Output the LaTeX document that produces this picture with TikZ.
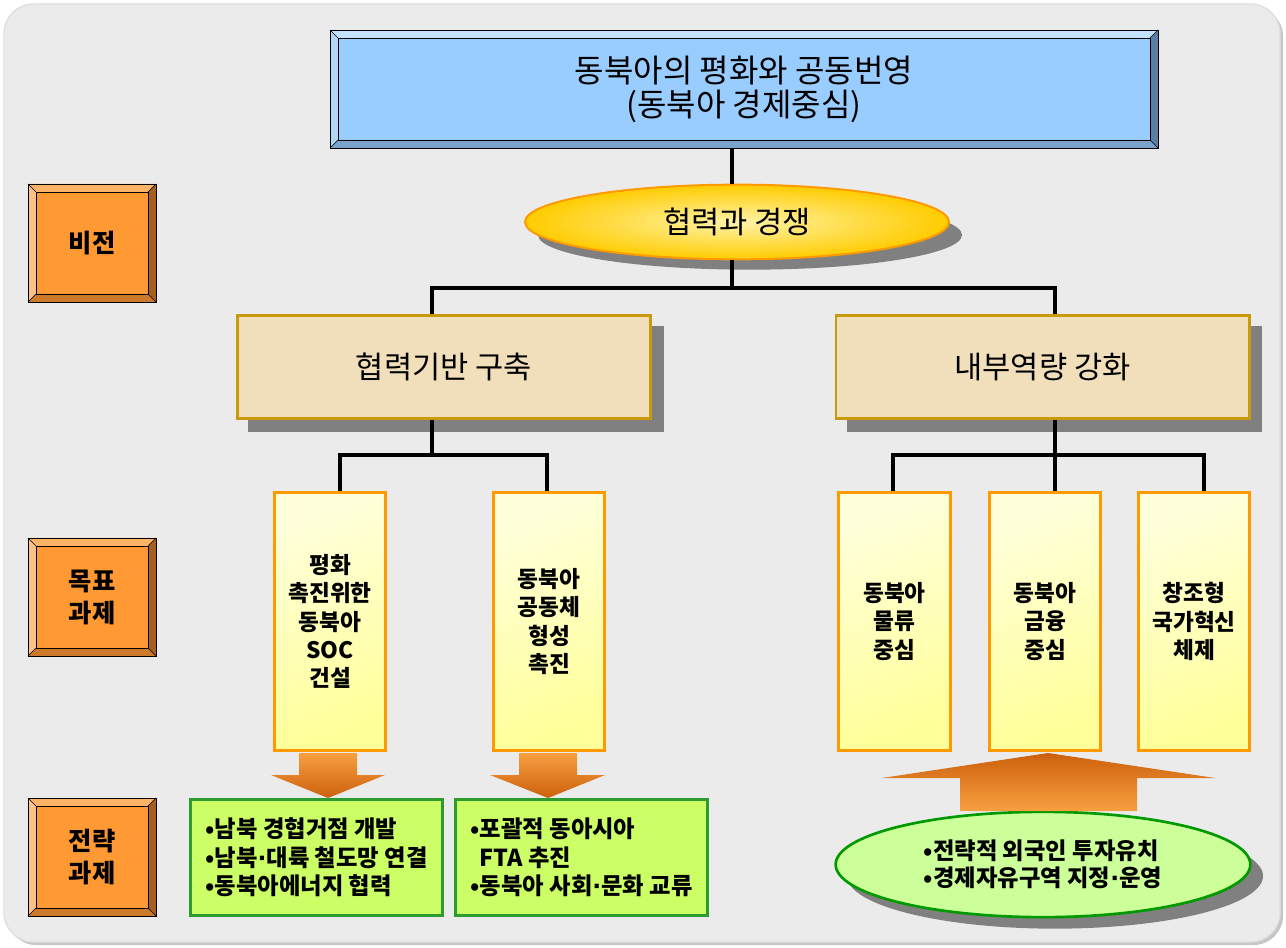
\documentclass[tikz,border=0pt]{standalone}
\usepackage{fontspec}
\setmainfont{Noto Sans CJK KR}
\newfontfamily\dotfont{DejaVu Sans}
\newcommand\mdot{{\dotfont\bfseries ·}}
\usetikzlibrary{shapes.geometric}
\definecolor{bggray}{HTML}{EBEBEB}
\definecolor{shadowgray}{HTML}{808080}
\definecolor{blueface}{HTML}{99CCFF}
\definecolor{bluetop}{HTML}{C4E2FF}
\definecolor{blueleft}{HTML}{B2D6F7}
\definecolor{blueright}{HTML}{5A7EA3}
\definecolor{bluebottom}{HTML}{7AA2CC}
\definecolor{orface}{HTML}{FF9933}
\definecolor{ortop}{HTML}{FFB366}
\definecolor{orleft}{HTML}{FFC285}
\definecolor{orright}{HTML}{A65F1C}
\definecolor{orbottom}{HTML}{CC7A29}
\definecolor{tanfill}{HTML}{F0DFBA}
\definecolor{tanborder}{HTML}{C99A0C}
\definecolor{boxorange}{HTML}{FF9900}
\definecolor{talltop}{HTML}{FFFFDC}
\definecolor{tallbot}{HTML}{FFFF99}
\definecolor{greenfill}{HTML}{CCFF66}
\definecolor{greenborder}{HTML}{2E9B2E}
\definecolor{ellgreen}{HTML}{CCFF99}
\definecolor{ellgreenborder}{HTML}{009900}
\definecolor{ylin}{HTML}{FFF3A8}
\definecolor{ylout}{HTML}{FFCC00}
\definecolor{arrlight}{HTML}{F8A040}
\definecolor{arrdark}{HTML}{CC600C}
\newcommand\bevelfaces[6]{%
 \fill[#3] (#1.north west) -- (#1.north east) -- ([shift={(-#2,-#2)}]#1.north east) -- ([shift={(#2,-#2)}]#1.north west) -- cycle;
 \fill[#4] (#1.north west) -- ([shift={(#2,-#2)}]#1.north west) -- ([shift={(#2,#2)}]#1.south west) -- (#1.south west) -- cycle;
 \fill[#5] (#1.north east) -- (#1.south east) -- ([shift={(-#2,#2)}]#1.south east) -- ([shift={(-#2,-#2)}]#1.north east) -- cycle;
 \fill[#6] (#1.south west) -- ([shift={(#2,#2)}]#1.south west) -- ([shift={(-#2,#2)}]#1.south east) -- (#1.south east) -- cycle;
 \draw[line width=0.7pt] (#1.north west) rectangle (#1.south east);
 \draw[line width=0.6pt] ([shift={(#2,-#2)}]#1.north west) rectangle ([shift={(-#2,#2)}]#1.south east);
 \draw[line width=0.4pt] (#1.north west) -- ([shift={(#2,-#2)}]#1.north west)
   (#1.north east) -- ([shift={(-#2,-#2)}]#1.north east)
   (#1.south west) -- ([shift={(#2,#2)}]#1.south west)
   (#1.south east) -- ([shift={(-#2,#2)}]#1.south east);
}
\begin{document}
\begin{tikzpicture}[x=0.75pt,y=-0.75pt,
  conn/.style={line width=3pt, black},
  bevelnode/.style={inner sep=0pt, outer sep=0pt, align=center},
  labelbox/.style={bevelnode, fill=orface, minimum width=96pt, minimum height=88.5pt,
     font=\fontsize{19}{24}\selectfont\bfseries},
  tanbox/.style={draw=tanborder, line width=2pt, fill=tanfill, minimum width=310pt, minimum height=77.5pt,
     inner sep=0pt, font=\fontsize{23}{26}\selectfont},
  tallbox/.style={draw=boxorange, line width=2.25pt, top color=talltop, bottom color=tallbot, shading angle=20,
     minimum width=83.5pt, minimum height=193.5pt, inner sep=0pt, align=center,
     font=\fontsize{17}{21.2}\selectfont\bfseries},
  greenbox/.style={draw=greenborder, line width=2.25pt, fill=greenfill, minimum width=189pt, minimum height=87pt,
     inner sep=0pt, align=left, font=\fontsize{17.5}{21.4}\selectfont\bfseries},
  blockarrow/.style={top color=arrlight, bottom color=arrdark}
]
\useasboundingbox (0,0) rectangle (1286,948);
\fill[white] (0,0) rectangle (1286,948);
% background panel
\fill[gray!45, rounded corners=22pt] (7,7) rectangle (1283,945);
\draw[fill=bggray, draw=gray!25, line width=1pt, rounded corners=22pt] (4,4) rectangle (1280,942);

% shadows
\fill[shadowgray] (750,235) ellipse [x radius=159pt, y radius=26pt];
\fill[shadowgray] (248,326) rectangle (664,432);
\fill[shadowgray] (847,326) rectangle (1262,432);
\fill[shadowgray] (1055,876) ellipse [x radius=156pt, y radius=39.5pt];

% top box
\node[bevelnode, fill=blueface, minimum width=621pt, minimum height=88.5pt,
      font=\fontsize{24}{25.5}\selectfont] (top) at (744,89) {동북아의 평화와 공동번영\\(동북아 경제중심)};
\bevelfaces{top}{6pt}{bluetop}{blueleft}{blueright}{bluebottom}

% side labels
\node[labelbox] (lab1) at (92,243) {비전};
\bevelfaces{lab1}{6pt}{ortop}{orleft}{orright}{orbottom}
\node[labelbox] (lab2) at (92,597) {목표\\과제};
\bevelfaces{lab2}{6pt}{ortop}{orleft}{orright}{orbottom}
\node[labelbox] (lab3) at (92,857) {전략\\과제};
\bevelfaces{lab3}{6pt}{ortop}{orleft}{orright}{orbottom}

% vision ellipse
\node[ellipse, draw=boxorange, line width=1.5pt, inner color=ylin, outer color=ylout,
      minimum width=318pt, minimum height=56pt, inner sep=0pt,
      font=\fontsize{23}{26}\selectfont] (ell) at (737,222) {협력과 경쟁};

% second level
\node[tanbox] (lb) at (444,367) {협력기반 구축};
\node[tanbox] (rb) at (1042.5,367) {내부역량 강화};

% tall boxes
\node[tallbox] (t1) at (330,621.5) {평화\\촉진위한\\동북아\\SOC\\건설};
\node[tallbox] (t2) at (549,621.5) {동북아\\공동체\\형성\\촉진};
\node[tallbox] (r1) at (894.5,621.5) {동북아\\물류\\중심};
\node[tallbox] (r2) at (1045,621.5) {동북아\\금융\\중심};
\node[tallbox] (r3) at (1194,621.5) {창조형\\국가혁신\\체제};

% green boxes
\node[greenbox] (g1) at (316.5,857.5) {•남북 경협거점 개발\\•남북\mdot 대륙 철도망 연결\\•동북아에너지 협력};
\node[greenbox] (g2) at (581.5,857.5) {•포괄적 동아시아\\\phantom{•}FTA 추진\\•동북아 사회\mdot 문화 교류};

% green ellipse
\node[ellipse, draw=ellgreenborder, line width=2pt, fill=ellgreen, minimum width=311pt, minimum height=79pt,
      inner sep=0pt, align=left, font=\fontsize{17.5}{20.5}\selectfont\bfseries] (ge) at (1043,864.5)
      {•전략적 외국인 투자유치\\•경제자유구역 지정\mdot 운영};

% block arrows
\shade[blockarrow] (299,753) -- (357,753) -- (357,775) -- (385,775) -- (328,798) -- (271,775) -- (299,775) -- cycle;
\shade[blockarrow] (519,753) -- (577,753) -- (577,775) -- (605,775) -- (548,798) -- (490,775) -- (519,775) -- cycle;
\shade[top color=arrdark, bottom color=arrlight] (960,811) -- (1137,811) -- (1137,778) -- (1215,778) -- (1048,753) -- (882,778) -- (960,778) -- cycle;

% connector junctions
\coordinate (j0) at (732,288);
\coordinate (bl) at (432,288);
\coordinate (br) at (1055,288);
\coordinate (cl) at (432,455);
\coordinate (xa) at (340,455);
\coordinate (xb) at (547,455);
\coordinate (cr) at (1055,455);
\coordinate (xc) at (893,455);
\coordinate (xe) at (1204,455);

\draw[conn] (top.south -| j0) -- (ell.north -| j0);
\draw[conn] (ell.south -| j0) -- (j0);
\draw[conn] (lb.north -| bl) -- (bl) -- (br) -- (rb.north -| br);
\draw[conn] (lb.south -| cl) -- (cl);
\draw[conn] (t1.north -| xa) -- (xa) -- (xb) -- (t2.north -| xb);
\draw[conn] (rb.south -| cr) -- (r2.north -| cr);
\draw[conn] (r1.north -| xc) -- (xc) -- (xe) -- (r3.north -| xe);
\end{tikzpicture}
\end{document}
